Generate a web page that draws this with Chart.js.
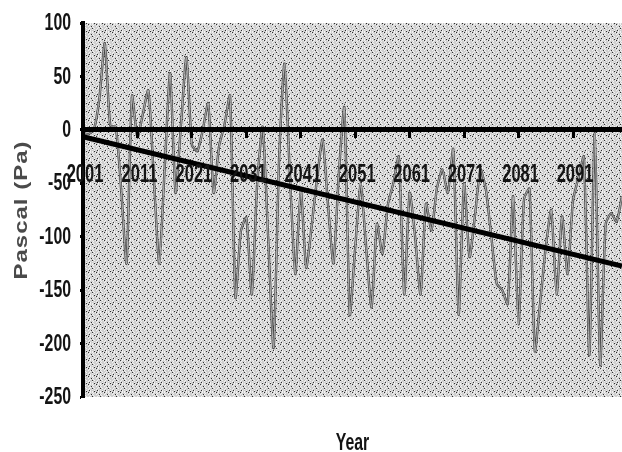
<!DOCTYPE html>
<html>
<head>
<meta charset="utf-8">
<script src="https://cdn.jsdelivr.net/npm/chart.js@4/dist/chart.umd.min.js"></script>
<style>
  html, body { margin: 0; padding: 0; background: #ffffff; }
  canvas { display: block; }
</style>
</head>
<body>
<canvas id="chart" width="622" height="452"></canvas>
<script>
// Annual pressure anomaly, 2001–2100 (Pa)
const years = Array.from({ length: 100 }, (_, i) => 2001 + i);

const pressure = [
   -3,   -4,    0,   29,   81,    4,    3,  -55, -125,   32,   // 2001–2010
   -7,   15,   37,  -44, -125,  -36,   53,  -59,    5,   68,   // 2011–2020
  -14,  -20,    0,   25,  -59,  -15,    5,   32, -157,  -95,   // 2021–2030
  -82, -154,  -50,    3, -100, -204,  -30,   62,  -42, -135,   // 2031–2040
  -56, -129,  -90,  -45,   -9,  -70, -125,  -40,   21, -173,   // 2041–2050
 -110,  -50, -110, -166,  -88, -116,  -70,  -50,  -25, -154,   // 2051–2060
  -59, -100, -154,  -69,  -94,  -55,  -37,  -59,  -18, -173,   // 2061–2070
  -50, -119,  -80,  -37,  -56, -100, -144, -150, -163,  -62,   // 2071–2080
 -182,  -65,  -55, -207, -160, -110,  -75, -154,  -81, -135,   // 2081–2090
  -66,  -45,  -25, -211,   -3, -220,  -88,  -78,  -86,  -62    // 2091–2100
];

// Linear trend end points (Pa)
const trendStart = -6.5;
const trendEnd = -127.5;

// Axis labels
const yTickValues = [100, 50, 0, -50, -100, -150, -200, -250];
const xTickYears = [2001, 2011, 2021, 2031, 2041, 2051, 2061, 2071, 2081, 2091];

const trendData = years.map((_, i) =>
  i === 0 ? trendStart : (i === years.length - 1 ? trendEnd : null));

// Stippled plot-area fill
function makeStipple(ctx) {
  const rows = [
    'kgwgwggw',
    'gwgggwgg',
    'wggkwggg',
    'ggwggwgg',
    'gwggkgwg',
    'wgggwggg',
    'gkwgggwg',
    'ggwgwgkg'
  ];
  const colours = { k: '#2e2e2e', g: '#cfcfcf', w: '#f3f3f3' };
  const tile = document.createElement('canvas');
  tile.width = rows[0].length;
  tile.height = rows.length;
  const t = tile.getContext('2d');
  rows.forEach((row, yy) => {
    [...row].forEach((ch, xx) => {
      t.fillStyle = colours[ch];
      t.fillRect(xx, yy, 1, 1);
    });
  });
  return ctx.createPattern(tile, 'repeat');
}

const plotBackground = {
  id: 'plotBackground',
  beforeDraw(chart) {
    const { ctx, chartArea: a } = chart;
    ctx.save();
    ctx.fillStyle = makeStipple(ctx);
    ctx.fillRect(a.left, a.top, a.right - a.left, a.bottom - a.top);
    ctx.restore();
  }
};

// Condensed axis text
const SQUEEZE = 0.66;
function condensedText(ctx, text, x, y, align, baseline, font) {
  ctx.save();
  ctx.font = font;
  ctx.textAlign = align;
  ctx.textBaseline = baseline;
  ctx.translate(x, y);
  ctx.scale(SQUEEZE, 1);
  ctx.fillText(text, 0, 0);
  ctx.restore();
}

const LABEL_FONT = 'bold 24px "Liberation Sans", Arial, sans-serif';

const axisText = {
  id: 'axisText',
  afterDraw(chart) {
    const { ctx, chartArea: a, scales: { x, y } } = chart;
    ctx.save();
    ctx.fillStyle = '#141414';

    yTickValues.forEach(v => {
      condensedText(ctx, String(v), 71, y.getPixelForValue(v) + 0.5,
        'right', 'middle', LABEL_FONT);
    });

    xTickYears.forEach(yr => {
      const px = x.getPixelForValue(years.indexOf(yr));
      condensedText(ctx, String(yr), px + 2, 182,
        'center', 'alphabetic', 'bold 25px "Liberation Sans", Arial, sans-serif');
    });

    condensedText(ctx, 'Year', (a.left + a.right) / 2, 450,
      'center', 'alphabetic', LABEL_FONT);

    // Rotated y-axis title
    ctx.save();
    ctx.fillStyle = '#4a4a4a';
    ctx.font = 'bold 24px "Liberation Sans", Arial, sans-serif';
    ctx.letterSpacing = '1px';
    ctx.textAlign = 'center';
    ctx.textBaseline = 'alphabetic';
    ctx.translate(27, (a.top + a.bottom) / 2);
    ctx.rotate(-Math.PI / 2);
    ctx.scale(1, 0.8);
    ctx.fillText('Pascal (Pa)', 0, 0);
    ctx.restore();

    ctx.restore();
  }
};

new Chart(document.getElementById('chart'), {
  type: 'line',
  data: {
    labels: years,
    datasets: [
      {
        label: 'Trend',
        data: trendData,
        spanGaps: true,
        borderColor: '#000000',
        borderWidth: 5,
        pointRadius: 0,
        tension: 0
      },
      {
        label: 'Pressure (core)',
        data: pressure,
        borderColor: '#b4b4b4',
        borderWidth: 1,
        pointRadius: 0,
        tension: 0.2
      },
      {
        label: 'Pressure',
        data: pressure,
        borderColor: '#474747',
        borderWidth: 2.4,
        pointRadius: 0,
        tension: 0.2
      }
    ]
  },
  options: {
    responsive: false,
    animation: false,
    devicePixelRatio: 1,
    layout: { padding: { top: 23, right: 0, bottom: 55, left: 0 } },
    plugins: {
      legend: { display: false },
      tooltip: { enabled: false },
      title: { display: false }
    },
    scales: {
      x: {
        type: 'category',
        position: { y: 0 },
        offset: false,
        ticks: { display: false, autoSkip: false, maxRotation: 0 },
        grid: {
          drawOnChartArea: false,
          drawTicks: true,
          tickLength: 6,
          tickWidth: 3,
          lineWidth: 3,
          tickColor: c => (years[c.index] !== undefined && xTickYears.includes(years[c.index])) ? '#000000' : 'rgba(0,0,0,0)',
          color: 'rgba(0,0,0,0)',
          z: 1
        },
        border: { display: true, color: '#000000', width: 5, z: 1 }
      },
      y: {
        min: -250,
        max: 100,
        ticks: { display: false, stepSize: 50 },
        afterFit(scale) { scale.width = 83; },
        grid: {
          drawOnChartArea: false,
          drawTicks: true,
          tickLength: 3,
          tickWidth: 3,
          tickColor: '#000000',
          color: 'rgba(0,0,0,0)'
        },
        border: { display: true, color: '#000000', width: 4, z: 1 }
      }
    }
  },
  plugins: [plotBackground, axisText]
});
</script>
</body>
</html>
